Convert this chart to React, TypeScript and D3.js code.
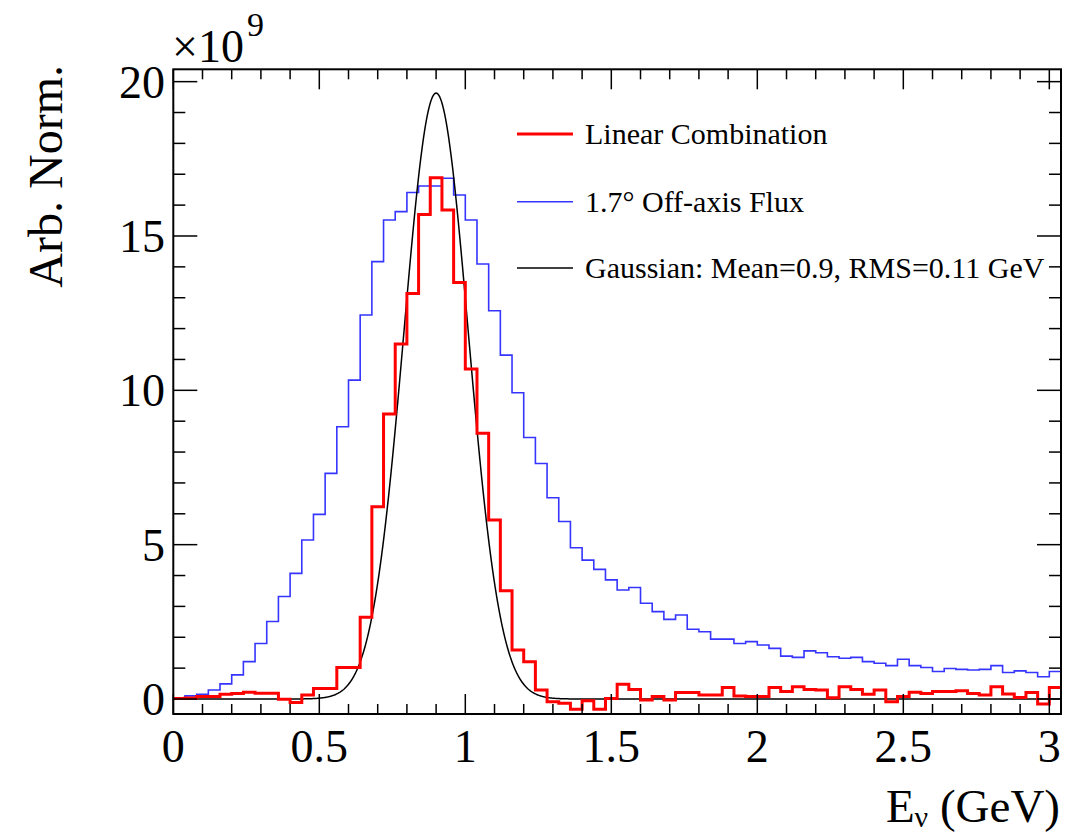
import React from "react";
import * as d3 from "d3";

// ---- data (bin width 0.04 GeV, 76 bins from 0 to 3.04 GeV), values in units of 1e9 ----
const BIN_WIDTH = 0.04;
const X_RANGE = [0, 3.04];
const Y_RANGE = [-0.486, 20.4];

const linearCombination = [
  0.02, 0.03, 0.08, 0.08, 0.15, 0.18, 0.22, 0.19, 0.19, -0.01,
  -0.11, 0.13, 0.34, 0.34, 1.02, 1.02, 2.65, 6.23, 9.23, 11.5,
  13.14, 15.7, 16.89, 15.84, 13.49, 10.69, 8.61, 5.8, 3.51, 1.59,
  1.21, 0.29, -0.09, -0.14, -0.33, -0.06, -0.33, 0.02, 0.48, 0.31,
  -0.03, 0.08, -0.03, 0.21, 0.21, 0.13, 0.13, 0.37, 0.1, 0.08,
  0.08, 0.37, 0.24, 0.4, 0.31, 0.29, 0.04, 0.4, 0.31, 0.15,
  0.29, -0.09, 0.08, 0.22, 0.18, 0.24, 0.24, 0.27, 0.18, 0.13,
  0.4, 0.16, 0.05, 0.21, -0.16, 0.37,
];

const offAxisFlux = [
  0.03, 0.1, 0.15, 0.29, 0.49, 0.78, 1.21, 1.8, 2.51, 3.32,
  4.07, 5.15, 5.98, 7.31, 8.82, 10.33, 12.44, 14.17, 15.52, 15.79,
  16.41, 16.62, 16.62, 16.87, 16.33, 15.52, 14.09, 12.58, 11.14, 9.92,
  8.47, 7.63, 6.52, 5.75, 4.9, 4.5, 4.2, 3.86, 3.53, 3.61,
  3.1, 2.83, 2.58, 2.72, 2.26, 2.18, 1.94, 1.94, 1.8, 1.86,
  1.75, 1.64, 1.39, 1.35, 1.56, 1.5, 1.37, 1.32, 1.35, 1.21,
  1.16, 1.08, 1.29, 1.08, 1.02, 0.89, 0.99, 0.96, 0.94, 0.96,
  1.08, 0.86, 0.91, 0.86, 0.72, 0.89,
];

// Gaussian parameters (from the legend) and its peak height
const GAUSS_MEAN = 0.9;
const GAUSS_RMS = 0.11;
const GAUSS_PEAK = 19.63;

const X_TICKS = [0, 0.5, 1, 1.5, 2, 2.5, 3];
const X_TICK_LABELS = ["0", "0.5", "1", "1.5", "2", "2.5", "3"];
const Y_TICKS = [0, 5, 10, 15, 20];
const Y_TICK_LABELS = ["0", "5", "10", "15", "20"];

const LEGEND = [
  { label: "Linear Combination", color: "#ff0000", width: 3 },
  { label: "1.7\u00b0 Off-axis Flux", color: "#3535ff", width: 1.6 },
  { label: "Gaussian: Mean=0.9, RMS=0.11 GeV", color: "#000000", width: 1.5 },
];

const W = 1068;
const H = 836;
const FRAME = { left: 173.3, right: 1061, top: 69.3, bottom: 714 };
const FONT = "Liberation Serif, Times New Roman, Times, serif";

export default function App() {
  const x = d3.scaleLinear().domain(X_RANGE).range([FRAME.left, FRAME.right]);
  const y = d3.scaleLinear().domain(Y_RANGE).range([FRAME.bottom, FRAME.top]);

  const stepLine = d3
    .line<[number, number]>()
    .x((d) => x(d[0]))
    .y((d) => y(d[1]))
    .curve(d3.curveStepAfter);

  const histPoints = (vals: number[]): [number, number][] => {
    const pts: [number, number][] = vals.map((v, i) => [i * BIN_WIDTH, v]);
    pts.push([vals.length * BIN_WIDTH, vals[vals.length - 1]]);
    return pts;
  };

  const gaussXs = d3.range(X_RANGE[0], X_RANGE[1] + 1e-9, 0.002);
  const gaussLine = d3
    .line<number>()
    .x((d) => x(d))
    .y((d) => y(GAUSS_PEAK * Math.exp(-0.5 * ((d - GAUSS_MEAN) / GAUSS_RMS) ** 2)));

  const xMinor = d3.range(0, 3.001, 0.1).filter((v) => Math.abs(v * 2 - Math.round(v * 2)) > 1e-6);
  const yMinor = d3.range(0, 20.5, 1).filter((v) => v % 5 !== 0);

  const legendLineX0 = 517;
  const legendLineX1 = 573;
  const legendYs = [134, 201.7, 268];

  return (
    <svg
      width={W}
      height={H}
      style={{ position: "absolute", left: 0, top: 0, background: "#fff", fontFamily: FONT }}
    >
      <rect x={0} y={0} width={W} height={H} fill="#fff" />

      {/* histograms */}
      <path d={stepLine(histPoints(offAxisFlux)) || ""} fill="none" stroke="#3535ff" strokeWidth={1.6} />
      <path d={gaussLine(gaussXs) || ""} fill="none" stroke="#000" strokeWidth={1.5} />
      <path d={stepLine(histPoints(linearCombination)) || ""} fill="none" stroke="#ff0000" strokeWidth={3} />

      {/* frame */}
      <rect
        x={FRAME.left}
        y={FRAME.top}
        width={FRAME.right - FRAME.left}
        height={FRAME.bottom - FRAME.top}
        fill="none"
        stroke="#000"
        strokeWidth={2}
      />

      {/* x ticks (bottom & top) */}
      {X_TICKS.map((t) => (
        <g key={"xt" + t}>
          <line x1={x(t)} x2={x(t)} y1={FRAME.bottom} y2={FRAME.bottom - 20} stroke="#000" strokeWidth={1.5} />
          <line x1={x(t)} x2={x(t)} y1={FRAME.top} y2={FRAME.top + 20} stroke="#000" strokeWidth={1.5} />
        </g>
      ))}
      {xMinor.map((t) => (
        <g key={"xm" + t}>
          <line x1={x(t)} x2={x(t)} y1={FRAME.bottom} y2={FRAME.bottom - 10} stroke="#000" strokeWidth={1.5} />
          <line x1={x(t)} x2={x(t)} y1={FRAME.top} y2={FRAME.top + 10} stroke="#000" strokeWidth={1.5} />
        </g>
      ))}
      {/* y ticks (left & right) */}
      {Y_TICKS.map((t) => (
        <g key={"yt" + t}>
          <line x1={FRAME.left} x2={FRAME.left + 24} y1={y(t)} y2={y(t)} stroke="#000" strokeWidth={1.5} />
          <line x1={FRAME.right} x2={FRAME.right - 24} y1={y(t)} y2={y(t)} stroke="#000" strokeWidth={1.5} />
        </g>
      ))}
      {yMinor.map((t) => (
        <g key={"ym" + t}>
          <line x1={FRAME.left} x2={FRAME.left + 12} y1={y(t)} y2={y(t)} stroke="#000" strokeWidth={1.5} />
          <line x1={FRAME.right} x2={FRAME.right - 12} y1={y(t)} y2={y(t)} stroke="#000" strokeWidth={1.5} />
        </g>
      ))}

      {/* tick labels */}
      {X_TICKS.map((t, i) => (
        <text key={"xl" + t} x={x(t)} y={762} fontSize={46} textAnchor="middle" fill="#000">
          {X_TICK_LABELS[i]}
        </text>
      ))}
      {Y_TICKS.map((t, i) => (
        <text key={"yl" + t} x={165} y={y(t) + 16} fontSize={46} textAnchor="end" fill="#000">
          {Y_TICK_LABELS[i]}
        </text>
      ))}

      {/* exponent */}
      <text x={172} y={62} fontSize={46} fill="#000">
        {"\u00d710"}
      </text>
      <text x={247} y={36} fontSize={34} fill="#000">
        9
      </text>

      {/* axis titles */}
      <text transform="translate(62,65) rotate(-90)" fontSize={48} textAnchor="end" fill="#000">
        Arb. Norm.
      </text>
      <text x={1060} y={822} fontSize={47} textAnchor="end" fill="#000">
        <tspan>E</tspan>
        <tspan fontSize={30} dy={5}>{"\u03bd"}</tspan>
        <tspan dy={-5}>{" (GeV)"}</tspan>
      </text>

      {/* legend */}
      {LEGEND.map((e, i) => (
        <g key={e.label}>
          <line
            x1={legendLineX0}
            x2={legendLineX1}
            y1={legendYs[i]}
            y2={legendYs[i]}
            stroke={e.color}
            strokeWidth={e.width}
          />
          <text x={585} y={legendYs[i] + 10} fontSize={30} fill="#000">
            {e.label}
          </text>
        </g>
      ))}
    </svg>
  );
}
